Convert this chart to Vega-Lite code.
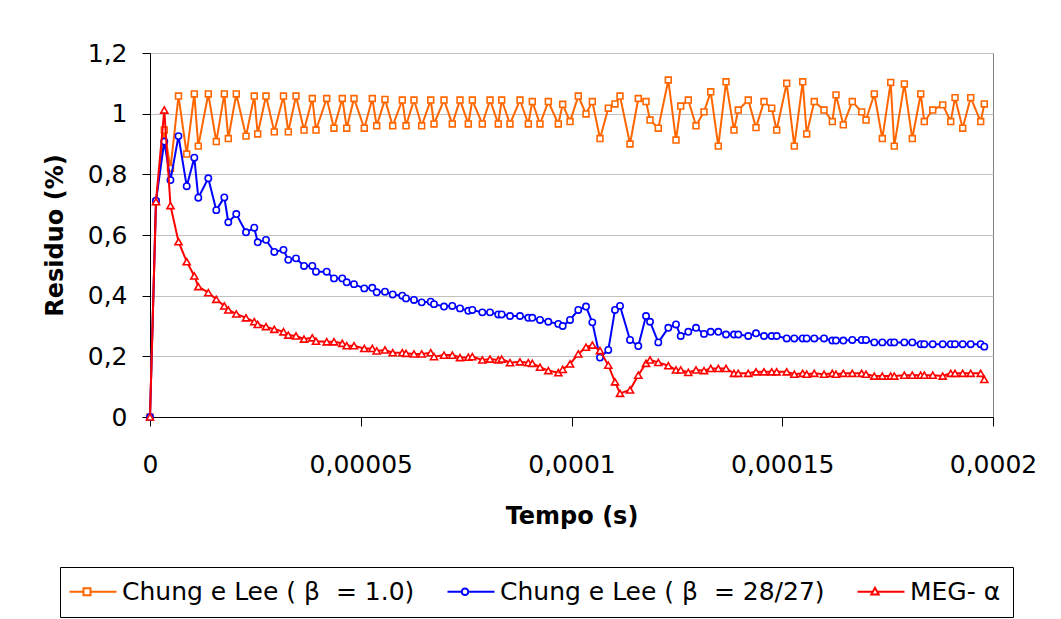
{
"$schema": "https://vega.github.io/schema/vega-lite/v6.json",
"width": 843, "height": 364,
"autosize": {"type": "none"},
"padding": {"left": 150, "top": 53, "right": 68, "bottom": 202},
"background": "white",
"data": {"values": [
{"t":0,"s":"A","r":0},{"t":1.42,"s":"A","r":0.71},{"t":3.39,"s":"A","r":0.946},{"t":4.86,"s":"A","r":0.82},{"t":6.76,"s":"A","r":1.058},{"t":8.71,"s":"A","r":0.867},{"t":10.51,"s":"A","r":1.065},{"t":11.46,"s":"A","r":0.893},{"t":13.83,"s":"A","r":1.065},{"t":15.73,"s":"A","r":0.908},{"t":17.63,"s":"A","r":1.065},{"t":18.58,"s":"A","r":0.918},{"t":20.47,"s":"A","r":1.065},{"t":22.78,"s":"A","r":0.926},{"t":24.74,"s":"A","r":1.058},{"t":25.55,"s":"A","r":0.933},{"t":27.52,"s":"A","r":1.058},{"t":29.49,"s":"A","r":0.94},{"t":31.67,"s":"A","r":1.058},{"t":32.81,"s":"A","r":0.94},{"t":34.64,"s":"A","r":1.058},{"t":36.54,"s":"A","r":0.946},{"t":38.51,"s":"A","r":1.05},{"t":39.38,"s":"A","r":0.946},{"t":41.92,"s":"A","r":1.05},{"t":43.65,"s":"A","r":0.952},{"t":45.62,"s":"A","r":1.05},{"t":46.67,"s":"A","r":0.952},{"t":48.4,"s":"A","r":1.05},{"t":50.84,"s":"A","r":0.952},{"t":52.74,"s":"A","r":1.05},{"t":53.78,"s":"A","r":0.96},{"t":55.75,"s":"A","r":1.047},{"t":57.58,"s":"A","r":0.96},{"t":59.86,"s":"A","r":1.045},{"t":60.74,"s":"A","r":0.96},{"t":62.63,"s":"A","r":1.045},{"t":64.46,"s":"A","r":0.96},{"t":66.6,"s":"A","r":1.045},{"t":67.38,"s":"A","r":0.966},{"t":69.75,"s":"A","r":1.045},{"t":71.72,"s":"A","r":0.966},{"t":73.55,"s":"A","r":1.045},{"t":75.52,"s":"A","r":0.966},{"t":76.47,"s":"A","r":1.045},{"t":78.84,"s":"A","r":0.966},{"t":80.67,"s":"A","r":1.045},{"t":82.63,"s":"A","r":0.966},{"t":83.44,"s":"A","r":1.045},{"t":85.41,"s":"A","r":0.966},{"t":87.78,"s":"A","r":1.045},{"t":89.75,"s":"A","r":0.966},{"t":90.7,"s":"A","r":1.04},{"t":92.53,"s":"A","r":0.966},{"t":94.5,"s":"A","r":1.04},{"t":96.87,"s":"A","r":0.966},{"t":97.91,"s":"A","r":1.031},{"t":99.65,"s":"A","r":0.974},{"t":101.61,"s":"A","r":1.058},{"t":103.44,"s":"A","r":0.999},{"t":104.94,"s":"A","r":1.04},{"t":106.76,"s":"A","r":0.918},{"t":108.73,"s":"A","r":1.018},{"t":110.32,"s":"A","r":1.032},{"t":111.51,"s":"A","r":1.058},{"t":113.88,"s":"A","r":0.9},{"t":115.85,"s":"A","r":1.05},{"t":117.68,"s":"A","r":1.04},{"t":118.63,"s":"A","r":0.979},{"t":120.59,"s":"A","r":0.952},{"t":122.97,"s":"A","r":1.111},{"t":124.79,"s":"A","r":0.913},{"t":125.91,"s":"A","r":1.025},{"t":127.71,"s":"A","r":1.045},{"t":129.54,"s":"A","r":0.96},{"t":131.44,"s":"A","r":1.006},{"t":133.03,"s":"A","r":1.072},{"t":134.83,"s":"A","r":0.893},{"t":136.66,"s":"A","r":1.105},{"t":138.55,"s":"A","r":0.946},{"t":139.57,"s":"A","r":1.012},{"t":141.94,"s":"A","r":1.045},{"t":143.77,"s":"A","r":0.954},{"t":145.67,"s":"A","r":1.04},{"t":147.5,"s":"A","r":1.018},{"t":148.68,"s":"A","r":0.946},{"t":151.06,"s":"A","r":1.1},{"t":152.86,"s":"A","r":0.893},{"t":154.85,"s":"A","r":1.105},{"t":155.8,"s":"A","r":0.933},{"t":157.6,"s":"A","r":1.04},{"t":159.91,"s":"A","r":1.012},{"t":161.88,"s":"A","r":0.974},{"t":162.75,"s":"A","r":1.062},{"t":164.49,"s":"A","r":0.963},{"t":166.62,"s":"A","r":1.04},{"t":168.85,"s":"A","r":1.006},{"t":169.87,"s":"A","r":0.979},{"t":171.84,"s":"A","r":1.065},{"t":173.74,"s":"A","r":0.918},{"t":175.73,"s":"A","r":1.103},{"t":176.58,"s":"A","r":0.893},{"t":178.96,"s":"A","r":1.098},{"t":180.85,"s":"A","r":0.918},{"t":182.85,"s":"A","r":1.065},{"t":183.7,"s":"A","r":0.974},{"t":185.7,"s":"A","r":1.012},{"t":188.07,"s":"A","r":1.029},{"t":189.97,"s":"A","r":0.974},{"t":190.99,"s":"A","r":1.053},{"t":192.81,"s":"A","r":0.952},{"t":194.71,"s":"A","r":1.053},{"t":197.08,"s":"A","r":0.974},{"t":197.94,"s":"A","r":1.032},
{"t":0,"s":"B","r":0},{"t":1.42,"s":"B","r":0.713},{"t":3.39,"s":"B","r":0.908},{"t":4.86,"s":"B","r":0.781},{"t":6.76,"s":"B","r":0.926},{"t":8.71,"s":"B","r":0.761},{"t":10.51,"s":"B","r":0.855},{"t":11.46,"s":"B","r":0.723},{"t":13.83,"s":"B","r":0.787},{"t":15.73,"s":"B","r":0.682},{"t":17.63,"s":"B","r":0.724},{"t":18.58,"s":"B","r":0.642},{"t":20.47,"s":"B","r":0.669},{"t":22.78,"s":"B","r":0.609},{"t":24.74,"s":"B","r":0.624},{"t":25.55,"s":"B","r":0.576},{"t":27.52,"s":"B","r":0.584},{"t":29.49,"s":"B","r":0.544},{"t":31.67,"s":"B","r":0.551},{"t":32.81,"s":"B","r":0.518},{"t":34.64,"s":"B","r":0.523},{"t":36.54,"s":"B","r":0.498},{"t":38.51,"s":"B","r":0.498},{"t":39.38,"s":"B","r":0.479},{"t":41.92,"s":"B","r":0.479},{"t":43.65,"s":"B","r":0.457},{"t":45.62,"s":"B","r":0.457},{"t":46.67,"s":"B","r":0.444},{"t":48.4,"s":"B","r":0.438},{"t":50.84,"s":"B","r":0.424},{"t":52.74,"s":"B","r":0.426},{"t":53.78,"s":"B","r":0.411},{"t":55.75,"s":"B","r":0.413},{"t":57.58,"s":"B","r":0.404},{"t":59.86,"s":"B","r":0.4},{"t":60.74,"s":"B","r":0.391},{"t":62.63,"s":"B","r":0.386},{"t":64.46,"s":"B","r":0.378},{"t":66.6,"s":"B","r":0.38},{"t":67.38,"s":"B","r":0.372},{"t":69.75,"s":"B","r":0.364},{"t":71.72,"s":"B","r":0.366},{"t":73.55,"s":"B","r":0.358},{"t":75.52,"s":"B","r":0.35},{"t":76.47,"s":"B","r":0.353},{"t":78.84,"s":"B","r":0.345},{"t":80.67,"s":"B","r":0.345},{"t":82.63,"s":"B","r":0.338},{"t":83.44,"s":"B","r":0.338},{"t":85.41,"s":"B","r":0.333},{"t":87.78,"s":"B","r":0.333},{"t":89.75,"s":"B","r":0.327},{"t":90.7,"s":"B","r":0.327},{"t":92.53,"s":"B","r":0.32},{"t":94.5,"s":"B","r":0.314},{"t":96.87,"s":"B","r":0.307},{"t":97.91,"s":"B","r":0.3},{"t":99.65,"s":"B","r":0.32},{"t":101.61,"s":"B","r":0.353},{"t":103.44,"s":"B","r":0.364},{"t":104.94,"s":"B","r":0.312},{"t":106.76,"s":"B","r":0.196},{"t":108.73,"s":"B","r":0.221},{"t":110.32,"s":"B","r":0.353},{"t":111.51,"s":"B","r":0.366},{"t":113.88,"s":"B","r":0.254},{"t":115.85,"s":"B","r":0.234},{"t":117.68,"s":"B","r":0.333},{"t":118.63,"s":"B","r":0.314},{"t":120.59,"s":"B","r":0.246},{"t":122.97,"s":"B","r":0.294},{"t":124.79,"s":"B","r":0.305},{"t":125.91,"s":"B","r":0.267},{"t":127.71,"s":"B","r":0.281},{"t":129.54,"s":"B","r":0.294},{"t":131.44,"s":"B","r":0.274},{"t":133.03,"s":"B","r":0.281},{"t":134.83,"s":"B","r":0.281},{"t":136.66,"s":"B","r":0.272},{"t":138.55,"s":"B","r":0.272},{"t":139.57,"s":"B","r":0.272},{"t":141.94,"s":"B","r":0.267},{"t":143.77,"s":"B","r":0.276},{"t":145.67,"s":"B","r":0.267},{"t":147.5,"s":"B","r":0.267},{"t":148.68,"s":"B","r":0.267},{"t":151.06,"s":"B","r":0.259},{"t":152.86,"s":"B","r":0.259},{"t":154.85,"s":"B","r":0.259},{"t":155.8,"s":"B","r":0.259},{"t":157.6,"s":"B","r":0.259},{"t":159.91,"s":"B","r":0.259},{"t":161.88,"s":"B","r":0.252},{"t":162.75,"s":"B","r":0.252},{"t":164.49,"s":"B","r":0.252},{"t":166.62,"s":"B","r":0.254},{"t":168.85,"s":"B","r":0.254},{"t":169.87,"s":"B","r":0.254},{"t":171.84,"s":"B","r":0.246},{"t":173.74,"s":"B","r":0.246},{"t":175.73,"s":"B","r":0.246},{"t":176.58,"s":"B","r":0.246},{"t":178.96,"s":"B","r":0.246},{"t":180.85,"s":"B","r":0.246},{"t":182.85,"s":"B","r":0.24},{"t":183.7,"s":"B","r":0.24},{"t":185.7,"s":"B","r":0.24},{"t":188.07,"s":"B","r":0.24},{"t":189.97,"s":"B","r":0.24},{"t":190.99,"s":"B","r":0.24},{"t":192.81,"s":"B","r":0.24},{"t":194.71,"s":"B","r":0.24},{"t":197.08,"s":"B","r":0.24},{"t":197.94,"s":"B","r":0.232},
{"t":0,"s":"C","r":0},{"t":1.42,"s":"C","r":0.71},{"t":3.39,"s":"C","r":1.012},{"t":4.86,"s":"C","r":0.697},{"t":6.76,"s":"C","r":0.578},{"t":8.71,"s":"C","r":0.512},{"t":10.51,"s":"C","r":0.465},{"t":11.46,"s":"C","r":0.43},{"t":13.83,"s":"C","r":0.41},{"t":15.73,"s":"C","r":0.388},{"t":17.63,"s":"C","r":0.366},{"t":18.58,"s":"C","r":0.353},{"t":20.47,"s":"C","r":0.34},{"t":22.78,"s":"C","r":0.327},{"t":24.74,"s":"C","r":0.314},{"t":25.55,"s":"C","r":0.305},{"t":27.52,"s":"C","r":0.298},{"t":29.49,"s":"C","r":0.289},{"t":31.67,"s":"C","r":0.281},{"t":32.81,"s":"C","r":0.27},{"t":34.64,"s":"C","r":0.267},{"t":36.54,"s":"C","r":0.257},{"t":38.51,"s":"C","r":0.261},{"t":39.38,"s":"C","r":0.25},{"t":41.92,"s":"C","r":0.248},{"t":43.65,"s":"C","r":0.248},{"t":45.62,"s":"C","r":0.243},{"t":46.67,"s":"C","r":0.235},{"t":48.4,"s":"C","r":0.235},{"t":50.84,"s":"C","r":0.226},{"t":52.74,"s":"C","r":0.226},{"t":53.78,"s":"C","r":0.218},{"t":55.75,"s":"C","r":0.221},{"t":57.58,"s":"C","r":0.212},{"t":59.86,"s":"C","r":0.212},{"t":60.74,"s":"C","r":0.21},{"t":62.63,"s":"C","r":0.208},{"t":64.46,"s":"C","r":0.208},{"t":66.6,"s":"C","r":0.212},{"t":67.38,"s":"C","r":0.199},{"t":69.75,"s":"C","r":0.204},{"t":71.72,"s":"C","r":0.204},{"t":73.55,"s":"C","r":0.196},{"t":75.52,"s":"C","r":0.197},{"t":76.47,"s":"C","r":0.199},{"t":78.84,"s":"C","r":0.188},{"t":80.67,"s":"C","r":0.191},{"t":82.63,"s":"C","r":0.188},{"t":83.44,"s":"C","r":0.191},{"t":85.41,"s":"C","r":0.179},{"t":87.78,"s":"C","r":0.182},{"t":89.75,"s":"C","r":0.179},{"t":90.7,"s":"C","r":0.177},{"t":92.53,"s":"C","r":0.164},{"t":94.5,"s":"C","r":0.153},{"t":96.87,"s":"C","r":0.146},{"t":97.91,"s":"C","r":0.157},{"t":99.65,"s":"C","r":0.175},{"t":101.61,"s":"C","r":0.208},{"t":103.44,"s":"C","r":0.23},{"t":104.94,"s":"C","r":0.237},{"t":106.76,"s":"C","r":0.219},{"t":108.73,"s":"C","r":0.171},{"t":110.32,"s":"C","r":0.116},{"t":111.51,"s":"C","r":0.078},{"t":113.88,"s":"C","r":0.089},{"t":115.85,"s":"C","r":0.138},{"t":117.68,"s":"C","r":0.177},{"t":118.63,"s":"C","r":0.188},{"t":120.59,"s":"C","r":0.18},{"t":122.97,"s":"C","r":0.169},{"t":124.79,"s":"C","r":0.155},{"t":125.91,"s":"C","r":0.155},{"t":127.71,"s":"C","r":0.147},{"t":129.54,"s":"C","r":0.155},{"t":131.44,"s":"C","r":0.153},{"t":133.03,"s":"C","r":0.16},{"t":134.83,"s":"C","r":0.16},{"t":136.66,"s":"C","r":0.16},{"t":138.55,"s":"C","r":0.144},{"t":139.57,"s":"C","r":0.144},{"t":141.94,"s":"C","r":0.144},{"t":143.77,"s":"C","r":0.149},{"t":145.67,"s":"C","r":0.149},{"t":147.5,"s":"C","r":0.149},{"t":148.68,"s":"C","r":0.149},{"t":151.06,"s":"C","r":0.149},{"t":152.86,"s":"C","r":0.141},{"t":154.85,"s":"C","r":0.144},{"t":155.8,"s":"C","r":0.141},{"t":157.6,"s":"C","r":0.144},{"t":159.91,"s":"C","r":0.141},{"t":161.88,"s":"C","r":0.144},{"t":162.75,"s":"C","r":0.141},{"t":164.49,"s":"C","r":0.144},{"t":166.62,"s":"C","r":0.144},{"t":168.85,"s":"C","r":0.144},{"t":169.87,"s":"C","r":0.141},{"t":171.84,"s":"C","r":0.135},{"t":173.74,"s":"C","r":0.135},{"t":175.73,"s":"C","r":0.135},{"t":176.58,"s":"C","r":0.135},{"t":178.96,"s":"C","r":0.138},{"t":180.85,"s":"C","r":0.138},{"t":182.85,"s":"C","r":0.138},{"t":183.7,"s":"C","r":0.138},{"t":185.7,"s":"C","r":0.138},{"t":188.07,"s":"C","r":0.135},{"t":189.97,"s":"C","r":0.144},{"t":190.99,"s":"C","r":0.144},{"t":192.81,"s":"C","r":0.144},{"t":194.71,"s":"C","r":0.144},{"t":197.08,"s":"C","r":0.144},{"t":197.94,"s":"C","r":0.124}
]},
"encoding": {
  "x": {"field": "t", "type": "quantitative", "scale": {"domain": [0, 200], "nice": false},
    "axis": {"title": "Tempo (s)", "values": [0, 50, 100, 150, 200], "labelExpr": "replace(format(datum.value / 1000000, '.5~f'), '.', ',')", "labelFlush": false, "labelOverlap": false, "grid": false, "tickSize": 9, "labelPadding": 26, "titleY": 106, "titleBaseline": "alphabetic"}},
  "y": {"field": "r", "type": "quantitative", "scale": {"domain": [0, 1.2], "nice": false},
    "axis": {"title": "Residuo (%)", "values": [0, 0.2, 0.4, 0.6, 0.8, 1, 1.2], "labelExpr": "replace(format(datum.value, '.1~f'), '.', ',')", "grid": true, "tickSize": 8, "labelPadding": 15, "titleX": -95, "titleY": 182, "titleBaseline": "middle"}}
},
"layer": [
  {"transform": [{"filter": "datum.s == 'A'"}], "mark": {"type": "line", "strokeWidth": 2, "stroke": "#FF6600"}},
  {"transform": [{"filter": "datum.s == 'A'"}], "mark": {"type": "point", "shape": "square", "size": 34, "filled": true, "fill": "white", "stroke": "#FF6600", "strokeWidth": 1.6, "opacity": 1}},
  {"transform": [{"filter": "datum.s == 'B'"}], "mark": {"type": "line", "strokeWidth": 2, "stroke": "#0000FF"}},
  {"transform": [{"filter": "datum.s == 'B'"}], "mark": {"type": "point", "shape": "circle", "size": 40, "filled": true, "fill": "white", "stroke": "#0000FF", "strokeWidth": 1.6, "opacity": 1}},
  {"transform": [{"filter": "datum.s == 'C'"}], "mark": {"type": "line", "strokeWidth": 2, "stroke": "#FF0000"}},
  {"transform": [{"filter": "datum.s == 'C'"}], "mark": {"type": "point", "shape": "triangle-up", "size": 50, "filled": true, "fill": "white", "stroke": "#FF0000", "strokeWidth": 1.6, "opacity": 1}},
  {"mark": {"type": "point", "strokeOpacity": 0, "fillOpacity": 0},
   "encoding": {
     "stroke": {"field": "s", "type": "nominal", "scale": {"domain": ["A", "B", "C"], "range": ["#FF6600", "#0000FF", "#FF0000"]}, "legend": {"title": null, "orient": "none", "legendX": -90, "legendY": 514, "direction": "horizontal", "strokeColor": "black", "padding": 12, "labelFontSize": 25, "labelColor": "black", "labelLimit": 0, "symbolSize": 400, "symbolStrokeWidth": 2, "symbolOpacity": 1, "symbolFillColor": "transparent", "labelOffset": 25, "columnPadding": 28, "labelExpr": "datum.label == 'A' ? 'Chung e Lee (\u00a0β\u00a0\u00a0= 1.0)' : datum.label == 'B' ? 'Chung e Lee (\u00a0β\u00a0\u00a0= 28/27)' : 'MEG-\u00a0α'"}},
     "shape": {"field": "s", "type": "nominal", "scale": {"domain": ["A", "B", "C"], "range": ["M-1.5,0L-0.1,0M0.6,0L3.2,0M-0.1,-0.35L0.6,-0.35L0.6,0.35L-0.1,0.35Z", "M-1.5,0L-0.08,0M0.58,0L3.2,0M0.58,0A0.33,0.33 0 1,1 -0.08,0A0.33,0.33 0 1,1 0.58,0", "M-1.5,0L0,0M0.5,0L3.2,0M0.25,-0.4L0.62,0.27L-0.12,0.27Z"]}, "legend": {"title": null, "orient": "none", "legendX": -90, "legendY": 514, "direction": "horizontal", "strokeColor": "black", "padding": 12, "labelFontSize": 25, "labelColor": "black", "labelLimit": 0, "symbolSize": 400, "symbolStrokeWidth": 2, "symbolOpacity": 1, "symbolFillColor": "transparent", "labelOffset": 25, "columnPadding": 28, "labelExpr": "datum.label == 'A' ? 'Chung e Lee (\u00a0β\u00a0\u00a0= 1.0)' : datum.label == 'B' ? 'Chung e Lee (\u00a0β\u00a0\u00a0= 28/27)' : 'MEG-\u00a0α'"}}
   }}
],
"config": {
  "font": "DejaVu Sans",
  "view": {"stroke": "#808080", "strokeWidth": 1},
  "axis": {"labelFont": "DejaVu Sans", "labelFontSize": 25, "labelColor": "black", "titleFont": "DejaVu Sans", "titleFontSize": 24, "titleFontWeight": "bold", "titleColor": "black", "domainColor": "black", "tickColor": "black", "gridColor": "#c0c0c0", "domainWidth": 1, "tickWidth": 1},
  "legend": {"labelFont": "DejaVu Sans"}
}
}
